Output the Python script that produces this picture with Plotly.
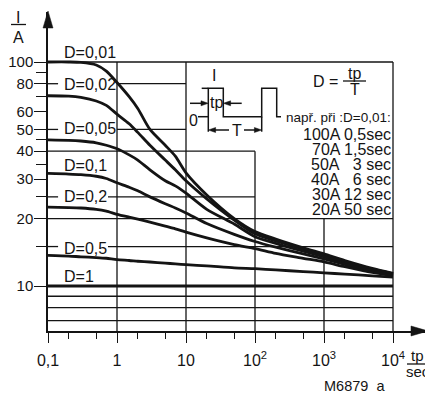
import math
import plotly.graph_objects as go

# ---------------- data ----------------
tp_sec = [0.1, 0.2, 0.3, 0.5, 0.7, 1, 1.5, 2, 3, 5, 7, 10, 20, 50,
          100, 200, 500, 1000, 2000, 5000, 10000]
i_d001 = [100, 100, 99.6, 97, 91, 81, 70, 62, 50, 42.5, 38, 32, 25.5, 20,
          17.5, 16.2, 14.8, 13.9, 13.0, 12.0, 11.4]
i_d002 = [70.7, 70.4, 69.5, 67, 64, 58.5, 53, 48.5, 42.5, 36.5, 33, 29.5, 24.5, 19.7,
          17.1, 15.9, 14.6, 13.7, 12.85, 11.9, 11.35]
i_d005 = [44.9, 44.7, 44.4, 43.6, 42.5, 41, 38.5, 36.5, 33, 29.5, 28, 26, 22, 18.9,
          16.6, 15.5, 14.3, 13.5, 12.7, 11.8, 11.3]
i_d01 = [31.8, 31.6, 31.4, 30.9, 30.2, 28.9, 27.6, 26.6, 25, 23.3, 22.3, 21.2, 19, 17,
         15.8, 14.9, 13.9, 13.2, 12.5, 11.65, 11.2]
i_d02 = [22.5, 22.4, 22.3, 22, 21.6, 20.9, 20.3, 19.9, 19.3, 18.5, 18, 17.4, 16.4, 15.3,
         14.7, 14.0, 13.3, 12.8, 12.2, 11.5, 11.1]
i_d05 = [13.7, 13.6, 13.5, 13.4, 13.3, 13.1, 13.0, 12.9, 12.8, 12.65, 12.55, 12.45, 12.3, 12.05,
         11.95, 11.8, 11.6, 11.45, 11.3, 11.1, 10.95]
tp_d1 = [0.1, 10000]
i_d1 = [10, 10]

x_tick_vals = [0.1, 1, 10, 100, 1000, 10000]
x_tick_text = ["0,1", "1", "10", "10<sup>2</sup>", "10<sup>3</sup>", "10<sup>4</sup>"]
x_minor_vals = [0.2, 0.5, 2, 5, 20, 50, 200, 500, 2000, 5000]
y_tick_vals = [10, 20, 30, 40, 50, 60, 80, 100]
y_tick_text = ["10", "20", "30", "40", "50", "60", "80", "100"]
y_minor_vals = [15, 25, 35, 45, 70, 90]

example_lines = ["100A 0,5sec", "70A 1,5sec", "50A\u00a0\u00a0 3 sec",
                 "40A\u00a0\u00a0 6 sec", "30A 12 sec", "20A 50 sec"]

# ---------------- geometry (page pixels; page has an 8px body margin) ----------------
PAGE_W, PAGE_H = 433, 394
OFF = 8
W, H = PAGE_W - OFF, PAGE_H - OFF
PL, PR, PT, PB = 48, 427, 12, 331          # plot area in page pixels
ML, MT = PL - OFF, PT - OFF
MR, MB = OFF + W - PR, OFF + H - PB
PW, PH = PR - PL, PB - PT
X0 = -1.0
X1 = X0 + PW / 69.0
Y0 = 1 - 45 / 224.0
Y1 = Y0 + PH / 224.0
INK = "#141414"
FONT = "Liberation Sans, Arial, Helvetica, sans-serif"


def xf(v):
    return (math.log10(v) - X0) / (X1 - X0)


def yf(v):
    return (math.log10(v) - Y0) / (Y1 - Y0)


def px(x):
    return (x - PL) / PW


def py(y):
    return (PB - y) / PH


def pp(x, y):
    return f"{px(x):.5f},{py(y):.5f}"


fig = go.Figure()

line_style = dict(color=INK, width=2.8, shape="spline", smoothing=0.7)
for ys in [i_d001, i_d002, i_d005, i_d01, i_d02, i_d05]:
    fig.add_trace(go.Scatter(x=tp_sec, y=ys, mode="lines", line=line_style,
                             hoverinfo="skip", showlegend=False))
fig.add_trace(go.Scatter(x=tp_d1, y=i_d1, mode="lines",
                         line=dict(color=INK, width=3), hoverinfo="skip", showlegend=False))

shapes = []
grid = dict(color=INK, width=1.3)

# horizontal grid segments (value, from, to)
hsegs = [(100, 0.1, 1e4), (80, 0.1, 0.14), (80, 1, 10), (50, 0.1, 0.14), (50, 1, 10),
         (40, 0.1, 100), (25, 0.1, 0.14), (25, 0.74, 100), (20, 0.1, 1e4),
         (15, 0.1, 0.14), (15, 0.74, 1e4), (10, 0.1, 1e4), (9, 0.1, 1e4),
         (8, 0.1, 1e4), (7, 0.1, 1e4)]
for v, a, b in hsegs:
    shapes.append(dict(type="line", xref="paper", yref="paper", x0=xf(a), x1=xf(b),
                       y0=yf(v), y1=yf(v), line=grid, layer="below"))
# vertical grid segments (value, top)
vsegs = [(1, 100), (10, 100), (100, 40), (1000, 20), (10000, 100)]
for v, top in vsegs:
    shapes.append(dict(type="line", xref="paper", yref="paper", x0=xf(v), x1=xf(v),
                       y0=0, y1=yf(top), line=grid, layer="below"))


def tri(a, b, c):
    shapes.append(dict(type="path", xref="paper", yref="paper",
                       path=f"M {pp(*a)} L {pp(*b)} L {pp(*c)} Z",
                       fillcolor=INK, line=dict(color=INK, width=0.5), layer="above"))


def pline(points, width=1.5):
    path = "M " + " L ".join(pp(x, y) for x, y in points)
    shapes.append(dict(type="path", xref="paper", yref="paper", path=path,
                       line=dict(color=INK, width=width), layer="above"))


# axis arrows
tri((48, 11), (43, 28), (53, 28))
tri((428, 331), (411, 326), (411, 336))

# pulse sketch
pline([(201.7, 88.3), (208.3, 88.3)])
pline([(208.3, 131.7), (208.3, 88.3), (223.3, 88.3), (223.3, 116.7), (261.7, 116.7),
       (261.7, 88.3), (276.7, 88.3), (276.7, 116.7), (281, 116.7)])
pline([(198, 116.7), (208.3, 116.7)])
pline([(261.7, 116.7), (261.7, 131.7)])
pline([(190, 103.3), (203, 103.3)])
tri((208.3, 103.3), (201, 100.8), (201, 105.8))
pline([(228, 103.3), (241.7, 103.3)])
tri((223.3, 103.3), (230.6, 100.8), (230.6, 105.8))
pline([(213, 130), (229, 130)])
tri((208.3, 130), (215.6, 127.5), (215.6, 132.5))
pline([(244, 130), (257, 130)])
tri((261.7, 130), (254.4, 127.5), (254.4, 132.5))

# fraction bars
pline([(11, 24.5), (26, 24.5)], 1.3)
pline([(343, 81), (366, 81)], 1.3)
pline([(407, 364), (427, 364)], 1.3)

annotations = []


def txt(x, y, s, size=16, anchor="center", h=None):
    a = dict(x=px(x), y=py(y), xref="paper", yref="paper", text=s,
             showarrow=False, xanchor=anchor, yanchor="middle", borderpad=0,
             font=dict(family=FONT, size=size, color=INK))
    if h:
        a["height"] = h
    annotations.append(a)


# curve labels
txt(63, 52.5, "D=0,01", anchor="left")
txt(63, 84.5, "D=0,02", anchor="left")
txt(63, 128, "D=0,05", anchor="left")
txt(63, 165.5, "D=0,1", anchor="left")
txt(63, 196, "D=0,2", anchor="left")
txt(63, 248.5, "D=0,5", anchor="left")
txt(63, 276, "D=1", anchor="left")

# axis titles
txt(18, 18, "I")
txt(18.5, 37.5, "A")
txt(417, 355, "tp", size=15)
txt(418, 371.5, "sec", size=15)
txt(354, 386, "M6879\u00a0\u00a0a", size=14.5)

# pulse sketch text
txt(213.5, 75, "I")
txt(193.5, 120, "0")
txt(216.5, 102, "tp")
txt(236.5, 130, "T")
txt(339, 81, "D =", anchor="right")
txt(354.5, 73.5, "tp")
txt(354.5, 89, "T")
txt(391.5, 118, "např. při :D=0,01:", size=13.5, anchor="right", h=15)
for k, s in enumerate(example_lines):
    txt(391.5, 134.5 + 15 * k, s, anchor="right", h=15)

fig.update_layout(
    width=W, height=H, template="none",
    margin=dict(l=ML, r=MR, t=MT, b=MB, pad=0),
    paper_bgcolor="white", plot_bgcolor="rgba(0,0,0,0)",
    showlegend=False, shapes=shapes, annotations=annotations,
    font=dict(family=FONT, size=16, color=INK),
    xaxis=dict(type="log", range=[X0, X1], showgrid=False, zeroline=False,
               showline=True, linecolor=INK, linewidth=1.5,
               ticks="outside", ticklen=10, tickwidth=1.3, tickcolor=INK,
               tickmode="array", tickvals=x_tick_vals, ticktext=x_tick_text,
               tickfont=dict(family=FONT, size=16, color=INK), ticklabelstandoff=4,
               minor=dict(tickmode="array", tickvals=x_minor_vals, ticks="outside",
                          ticklen=6, tickwidth=1.3, tickcolor=INK, showgrid=False),
               automargin=False, fixedrange=True),
    yaxis=dict(type="log", range=[Y0, Y1], showgrid=False, zeroline=False,
               showline=True, linecolor=INK, linewidth=1.5,
               ticks="outside", ticklen=12, tickwidth=1.3, tickcolor=INK,
               tickmode="array", tickvals=y_tick_vals, ticktext=y_tick_text,
               tickfont=dict(family=FONT, size=15, color=INK), ticklabelstandoff=-2,
               minor=dict(tickmode="array", tickvals=y_minor_vals, ticks="outside",
                          ticklen=10, tickwidth=1.3, tickcolor=INK, showgrid=False),
               automargin=False, fixedrange=True),
)

fig.write_html("out.html")
